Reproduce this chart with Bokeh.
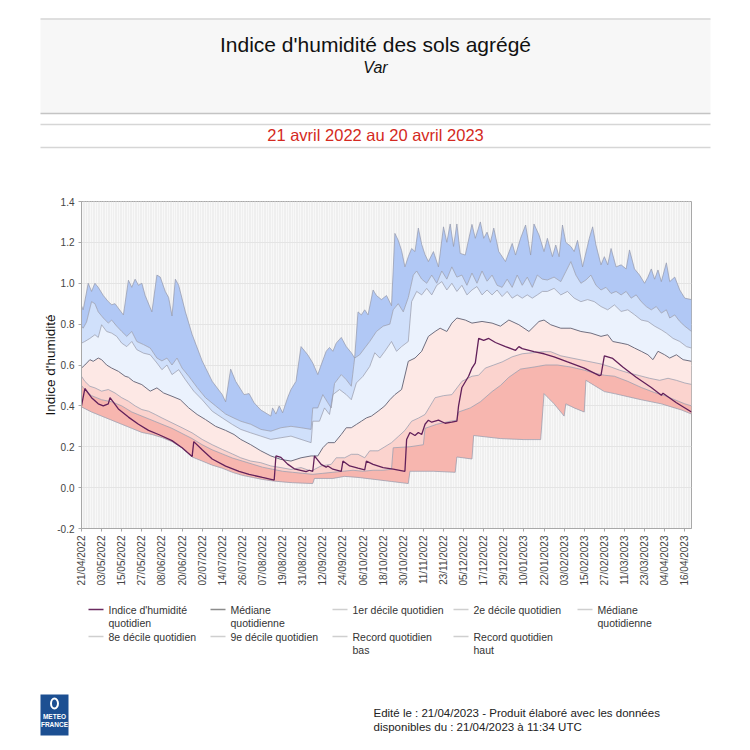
import math
from datetime import date
from bokeh.plotting import figure
from bokeh.layouts import column
from bokeh.models import Range1d, FixedTicker, NumeralTickFormatter
from bokeh.core.properties import value
from bokeh.embed import file_html
from bokeh.resources import INLINE

FONT = "'Liberation Sans', Arial, sans-serif"

# ---------------- data ----------------
START = date(2022, 4, 21)
N_DAYS = 364

tick_labels = ["21/04/2022", "03/05/2022", "15/05/2022", "27/05/2022", "08/06/2022",
               "20/06/2022", "02/07/2022", "14/07/2022", "26/07/2022", "07/08/2022",
               "19/08/2022", "31/08/2022", "12/09/2022", "24/09/2022", "06/10/2022",
               "18/10/2022", "30/10/2022", "11/11/2022", "23/11/2022", "05/12/2022",
               "17/12/2022", "29/12/2022", "10/01/2023", "22/01/2023", "03/02/2023",
               "15/02/2023", "27/02/2023", "11/03/2023", "23/03/2023", "04/04/2023",
               "16/04/2023"]
y_ticks = [-0.2, 0.0, 0.2, 0.4, 0.6, 0.8, 1.0, 1.2, 1.4]

# (day offset from 21/04/2022, value)
record_high = [(0, .89), (1, .87), (4, 1.0), (6, .96), (8, 1.0), (10, .98), (13, .94), (16, .91),
               (18, .895), (20, .90), (25, .845), (28, 1.015), (30, .98), (32, 1.02), (34, .99),
               (36, 1.0), (38, .94), (42, .86), (45, 1.04), (47, 1.03), (50, .96), (52, .93),
               (54, .84), (56, 1.02), (58, .99), (62, .86), (66, .75), (72, .62), (78, .52),
               (84, .455), (86, .42), (89, .58), (92, .52), (97, .455), (100, .46), (103, .415),
               (107, .38), (111, .36), (113, .35), (114, .39), (116, .36), (118, .40), (120, .366),
               (123, .44), (125, .48), (128, .52), (131, .69), (135, .65), (138, .61), (141, .553),
               (143, .60), (146, .667), (148, .686), (150, .667), (152, .707), (155, .735),
               (158, .69), (161, .66), (163, .634), (165, .86), (167, .845), (169, .87),
               (171, .845), (174, .967), (176, .94), (179, .92), (182, .94), (185, .89),
               (187, 1.244), (189, 1.21), (191, 1.16), (193, 1.08), (195, 1.13), (197, 1.17),
               (199, 1.155), (201, 1.27), (203, 1.19), (205, 1.14), (207, 1.106), (210, 1.155),
               (213, 1.08), (216, 1.276), (218, 1.20), (220, 1.29), (222, 1.18), (224, 1.29),
               (226, 1.146), (229, 1.138), (233, 1.288), (235, 1.22), (238, 1.30), (240, 1.22),
               (242, 1.25), (244, 1.20), (246, 1.27), (249, 1.155), (253, 1.106), (257, 1.195),
               (259, 1.138), (262, 1.22), (265, 1.285), (268, 1.138), (270, 1.29), (273, 1.236),
               (276, 1.155), (278, 1.22), (281, 1.13), (283, 1.187), (285, 1.13), (287, 1.285),
               (289, 1.20), (292, 1.18), (294, 1.155), (296, 1.21), (299, 1.08), (303, 1.22),
               (305, 1.276), (307, 1.187), (310, 1.09), (312, 1.13), (314, 1.09), (316, 1.17),
               (319, 1.08), (322, 1.09), (325, 1.07), (327, 1.163), (330, 1.07), (333, 1.04),
               (336, 1.0), (338, 1.03), (340, 1.07), (342, 1.02), (344, 1.065), (346, 1.008),
               (349, 1.10), (351, 1.008), (354, 1.03), (357, .967), (360, .927), (364, .92)]

decile_9 = [(0, .79), (1, .78), (3, .81), (6, .91), (8, .90), (10, .86), (13, .83), (16, .805),
            (18, .82), (21, .79), (24, .764), (27, .74), (30, .764), (33, .715), (37, .70),
            (41, .683), (45, .634), (48, .62), (51, .634), (54, .60), (57, .634), (60, .585),
            (64, .545), (69, .49), (74, .44), (80, .40), (86, .36), (91, .34), (95, .325),
            (101, .31), (107, .285), (113, .276), (119, .293), (125, .30), (131, .293),
            (137, .285), (138, .39), (141, .39), (144, .455), (147, .415), (149, .39),
            (151, .51), (155, .553), (158, .528), (161, .496), (163, .634), (166, .65),
            (169, .683), (172, .715), (176, .764), (180, .79), (184, .80), (186, .87),
            (189, .90), (192, .86), (195, .93), (198, 1.04), (200, 1.06), (203, 1.02),
            (206, 1.0), (209, 1.04), (212, 1.0), (215, 1.06), (218, 1.02), (221, 1.08),
            (224, 1.03), (227, 1.04), (230, .99), (233, 1.05), (236, 1.0), (239, 1.06),
            (242, 1.01), (245, 1.04), (248, .99), (251, .98), (254, 1.02), (257, .98),
            (260, 1.04), (263, .99), (266, 1.03), (269, .98), (272, 1.04), (275, 1.02),
            (278, 1.016), (282, 1.03), (286, 1.008), (289, 1.057), (292, 1.106), (295, 1.04),
            (298, 1.0), (301, 1.016), (304, 1.04), (307, .99), (310, .967), (313, .98),
            (316, .95), (319, .96), (322, .943), (325, .96), (328, .927), (331, .943),
            (334, .91), (337, .886), (340, .87), (343, .886), (346, .854), (349, .87),
            (351, .83), (354, .845), (357, .813), (360, .79), (364, .764)]

decile_8 = [(0, .707), (2, .715), (5, .73), (8, .748), (10, .735), (12, .797), (15, .764),
            (18, .756), (21, .74), (24, .707), (27, .69), (30, .715), (33, .675), (37, .658),
            (41, .65), (45, .61), (48, .577), (51, .60), (54, .553), (58, .577), (62, .528),
            (67, .472), (72, .43), (78, .374), (84, .341), (90, .309), (95, .285), (101, .268),
            (107, .252), (113, .236), (119, .244), (125, .252), (131, .236), (137, .22),
            (138, .325), (142, .325), (145, .39), (148, .358), (150, .455), (154, .48),
            (158, .455), (161, .43), (164, .512), (168, .545), (172, .593), (175, .66),
            (178, .634), (181, .667), (185, .715), (188, .667), (191, .69), (195, .715),
            (197, .91), (200, .96), (203, .943), (206, .975), (209, .943), (212, .99),
            (215, 1.008), (218, .967), (221, 1.0), (224, .96), (227, .99), (230, .943),
            (233, .967), (236, .984), (239, .943), (242, .967), (245, .943), (248, .967),
            (251, .935), (254, .96), (257, .927), (260, .943), (263, .927), (266, .943),
            (269, .927), (272, .943), (275, .96), (278, .96), (282, .975), (286, .943),
            (290, .96), (294, .927), (298, .91), (302, .92), (306, .91), (310, .886),
            (314, .87), (318, .894), (322, .862), (326, .87), (330, .846), (334, .82),
            (338, .813), (342, .79), (346, .772), (349, .756), (353, .73), (357, .715),
            (361, .69), (364, .683)]

median = [(0, .585), (2, .60), (5, .626), (7, .618), (10, .634), (12, .626), (15, .60),
          (18, .585), (22, .569), (26, .545), (28, .54), (31, .52), (36, .504), (41, .472),
          (45, .488), (49, .463), (54, .447), (59, .43), (64, .39), (69, .358), (74, .333),
          (80, .30), (86, .28), (91, .26), (95, .236), (101, .21), (107, .18), (113, .155),
          (119, .138), (125, .13), (131, .146), (137, .155), (141, .155), (144, .195),
          (147, .22), (151, .22), (155, .26), (158, .293), (161, .293), (164, .309),
          (167, .325), (170, .341), (173, .35), (177, .374), (181, .40), (184, .43),
          (187, .455), (191, .48), (195, .618), (199, .634), (203, .667), (207, .74),
          (211, .764), (214, .78), (218, .764), (221, .805), (224, .83), (229, .82),
          (233, .805), (239, .813), (245, .805), (250, .79), (255, .82), (261, .797),
          (267, .764), (273, .813), (276, .82), (280, .797), (286, .78), (292, .78),
          (298, .764), (304, .756), (310, .74), (314, .748), (317, .715), (322, .707),
          (326, .70), (330, .683), (334, .667), (338, .65), (341, .626), (344, .667),
          (348, .65), (351, .634), (355, .65), (359, .626), (364, .618)]

decile_2 = [(0, .545), (2, .52), (5, .496), (8, .488), (12, .472), (16, .48), (20, .463),
            (24, .44), (28, .423), (32, .40), (36, .382), (40, .374), (44, .358), (48, .341),
            (54, .317), (60, .293), (66, .268), (72, .236), (78, .21), (84, .187), (90, .165),
            (95, .146), (101, .13), (107, .122), (113, .106), (119, .098), (125, .089),
            (131, .098), (137, .081), (143, .106), (149, .114), (152, .146), (157, .146),
            (161, .163), (165, .163), (169, .146), (172, .18), (177, .18), (181, .20),
            (185, .22), (189, .25), (193, .28), (197, .325), (201, .34), (205, .358),
            (211, .44), (216, .45), (221, .455), (227, .52), (233, .545), (237, .55),
            (241, .585), (246, .60), (251, .615), (257, .64), (263, .655), (269, .66),
            (275, .665), (280, .665), (286, .645), (292, .635), (298, .625), (304, .615),
            (310, .605), (316, .59), (321, .575), (327, .56), (333, .548), (339, .535),
            (345, .525), (350, .535), (355, .525), (360, .512), (364, .505)]

decile_1 = [(0, .50), (3, .47), (6, .45), (12, .43), (18, .42), (24, .40), (30, .37),
            (36, .35), (42, .33), (48, .31), (54, .29), (60, .265), (66, .24), (72, .21),
            (78, .185), (84, .165), (90, .145), (96, .13), (102, .115), (108, .10),
            (114, .09), (120, .08), (126, .075), (132, .07), (138, .065), (144, .07),
            (150, .075), (156, .08), (162, .085), (168, .08), (174, .085), (180, .085),
            (185, .09), (186, .195), (196, .20), (204, .21), (205, .29), (212, .31),
            (220, .325), (224, .33), (225, .37), (232, .39), (238, .42), (245, .47),
            (250, .50), (255, .54), (262, .58), (270, .59), (277, .60), (284, .60),
            (292, .59), (300, .575), (306, .56), (312, .55), (318, .545), (326, .52),
            (334, .49), (342, .465), (348, .45), (354, .43), (360, .41), (364, .40)]

record_low = [(0, .395), (6, .37), (12, .35), (18, .33), (24, .31), (30, .29), (36, .27),
              (42, .26), (48, .245), (54, .225), (60, .195), (66, .15), (72, .13), (78, .11),
              (84, .095), (90, .075), (96, .06), (102, .05), (108, .04), (114, .033),
              (120, .028), (126, .024), (132, .022), (138, .02), (139, .045), (150, .045),
              (157, .055), (165, .05), (175, .04), (185, .03), (195, .02), (196, .08),
              (210, .08), (223, .075), (224, .15), (233, .14), (234, .255), (250, .24),
              (264, .235), (274, .235), (276, .46), (282, .41), (288, .35), (289, .41),
              (294, .39), (300, .37), (301, .525), (306, .50), (312, .47), (318, .46),
              (326, .445), (334, .43), (340, .42), (346, .41), (352, .395), (358, .38),
              (364, .36)]

daily_index = [(0, .40), (2, .485), (6, .44), (10, .41), (13, .40), (16, .41), (17, .44),
               (22, .385), (28, .345), (34, .31), (40, .28), (46, .26), (54, .23), (60, .195),
               (66, .152), (67, .225), (72, .185), (78, .14), (86, .105), (94, .08), (100, .065),
               (108, .05), (115, .037), (116, .155), (119, .148), (123, .115), (127, .092),
               (134, .078), (136, .085), (138, .08), (139, .155), (143, .114), (146, .10),
               (147, .106), (150, .09), (155, .08), (156, .13), (160, .106), (165, .095),
               (169, .087), (170, .13), (174, .114), (180, .098), (186, .09), (193, .08),
               (194, .235), (196, .27), (199, .255), (201, .27), (203, .26), (205, .31),
               (207, .33), (209, .32), (213, .33), (217, .315), (221, .32), (224, .325),
               (225, .40), (227, .49), (231, .545), (233, .585), (235, .61), (237, .73),
               (240, .72), (243, .73), (247, .71), (253, .69), (259, .672), (261, .69),
               (263, .68), (270, .665), (276, .655), (282, .64), (290, .615), (300, .585),
               (309, .548), (310, .55), (312, .645), (317, .632), (323, .59), (331, .54),
               (340, .49), (346, .452), (347, .462), (355, .415), (364, .37)]

band_colors = ["#b1c8f5", "#d0e0fb", "#ebf2fd", "#fde8e5", "#fbd3ce", "#f7b6af"]
legend_labels = [["Indice d'humidité", "quotidien"], ["Médiane", "quotidienne"],
                 ["1er décile quotidien"], ["2e décile quotidien"], ["Médiane", "quotidienne"],
                 ["8e décile quotidien"], ["9e décile quotidien"], ["Record quotidien", "bas"],
                 ["Record quotidien", "haut"]]
legend_colors = ["#6a2a5f", "#8c8c8c", "#cfcfcf", "#cfcfcf", "#cfcfcf",
                 "#cfcfcf", "#cfcfcf", "#cfcfcf", "#cfcfcf"]

TITLE = "Indice d'humidité des sols agrégé"
SUBTITLE = "Var"
PERIOD = "21 avril 2022 au 20 avril 2023"
FOOTER = ["Edité le : 21/04/2023 - Produit élaboré avec les données",
          "disponibles du : 21/04/2023 à 11:34 UTC"]


def xs_of(series):
    return [d for d, _ in series]


def ys_of(series):
    return [v for _, v in series]


def day_of(label):
    dd, mm, yy = map(int, label.split("/"))
    return (date(yy, mm, dd) - START).days


W = 750
HEAD_H, MAIN_H, FOOT_H = 158, 442, 150
FL, FR, FT, FB = 81, 691, 201, 528   # plot frame edges on the page


def deco_figure(y0, h):
    f = figure(width=W, height=h, x_range=Range1d(0, W), y_range=Range1d(y0 + h, y0),
               x_axis_type=None, y_axis_type=None, output_backend="svg",
               toolbar_location=None, min_border=0, outline_line_color=None,
               frame_align=False)
    f.grid.visible = False
    return f


def txt(f, x, y, text, size, color="#111111", align="left", style="normal"):
    f.text(x=x, y=y, text=text, text_font=value(FONT), text_font_size=size,
           text_color=color, text_align=align, text_baseline="middle",
           text_font_style=style)


# ---------------- header ----------------
head = deco_figure(0, HEAD_H)
head.quad(left=40, right=710, top=18, bottom=113, fill_color="#f7f7f7", line_color=None)
head.segment(x0=[40] * 4, x1=[710] * 4, y0=[18.5, 113, 124, 147], y1=[18.5, 113, 124, 147],
             line_color=["#d6d6d6", "#c4c4c4", "#d6d6d6", "#d6d6d6"], line_width=1.6)
txt(head, [375], [44], [TITLE], "21px", align="center")
txt(head, [375], [67], [SUBTITLE], "16px", align="center", style="italic")
txt(head, [375], [134], [PERIOD], "16.5px", color="#d42a22", align="center")

# ---------------- main chart ----------------
p = figure(width=W, height=MAIN_H, x_range=Range1d(0, N_DAYS), y_range=Range1d(-0.2, 1.4),
           output_backend="svg", toolbar_location=None,
           min_border_left=FL, min_border_right=W - FR, min_border_top=FT - HEAD_H,
           min_border_bottom=HEAD_H + MAIN_H - FB, frame_align=False,
           background_fill_color="#f8f8f8", border_fill_color="white",
           outline_line_color="#a8a8a8")

series_stack = [record_high, decile_9, decile_8, median, decile_2, decile_1, record_low]
for (upper, lower), col in zip(zip(series_stack[:-1], series_stack[1:]), band_colors):
    px = xs_of(upper) + xs_of(lower)[::-1]
    py = ys_of(upper) + ys_of(lower)[::-1]
    p.patch(px, py, fill_color=col, line_color=None)

for s in series_stack:
    if s is median:
        continue
    p.line(xs_of(s), ys_of(s), line_color="#9599ab", line_width=0.8, line_alpha=0.9)
p.line(xs_of(median), ys_of(median), line_color="#6f6f80", line_width=1)
p.line(xs_of(daily_index), ys_of(daily_index), line_color="#62205a", line_width=1.3)

tick_days = [day_of(t) for t in tick_labels]
p.xaxis.ticker = FixedTicker(ticks=tick_days)
p.xaxis.major_label_overrides = {d: t for d, t in zip(tick_days, tick_labels)}
p.xaxis.major_label_orientation = math.pi / 2
p.yaxis.ticker = FixedTicker(ticks=y_ticks)
p.yaxis.formatter = NumeralTickFormatter(format="0.0")
p.yaxis.axis_label = "Indice d'humidité"
p.yaxis.axis_label_text_font = FONT
p.yaxis.axis_label_text_font_size = "13.5px"
p.yaxis.axis_label_text_font_style = "normal"
p.yaxis.axis_label_text_color = "#111111"
p.yaxis.axis_label_standoff = -4
for ax in (p.xaxis, p.yaxis):
    ax.major_label_text_font = FONT
    ax.major_label_text_font_size = "10px"
    ax.major_label_text_color = "#444444"
    ax.major_label_standoff = 4
    ax.axis_line_color = "#a8a8a8"
    ax.major_tick_line_color = "#a8a8a8"
    ax.major_tick_out = 3
    ax.major_tick_in = 0
    ax.minor_tick_line_color = None
p.ygrid.grid_line_color = "#e4e4e4"
p.xgrid.ticker = FixedTicker(ticks=list(range(0, N_DAYS + 1)))
p.xgrid.grid_line_color = "#efefef"

# ---------------- legend + footer ----------------
foot = deco_figure(HEAD_H + MAIN_H, FOOT_H)
col_x = [108, 230, 352, 473, 597]
row_y = [609, 636]
sx0, sx1, sy, lx, ly, lt = [], [], [], [], [], []
for i, lab in enumerate(legend_labels):
    r, c = divmod(i, 5)
    x, y = col_x[c], row_y[r]
    sx0.append(x - 20)
    sx1.append(x - 5)
    sy.append(y)
    for k, line in enumerate(lab):
        lx.append(x)
        ly.append(y + 13.5 * k)
        lt.append(line)
foot.segment(x0=sx0, x1=sx1, y0=sy, y1=sy, line_color=legend_colors, line_width=1.5)
txt(foot, lx, ly, lt, "10.5px", color="#333333")

# logo
foot.quad(left=40, right=68, top=694, bottom=735, fill_color="#1c4f92", line_color=None)
foot.ellipse(x=[54], y=[703], width=[7], height=[10], fill_color=None, line_color="white",
             line_width=2)
txt(foot, [54, 54], [716, 724], ["METEO", "FRANCE"], "6.5px", color="white",
    align="center", style="bold")
txt(foot, [373, 373], [712, 726], FOOTER, "11.5px", color="#222222")

layout = column(head, p, foot, spacing=0)
open("out.html", "w").write(file_html(layout, INLINE))
